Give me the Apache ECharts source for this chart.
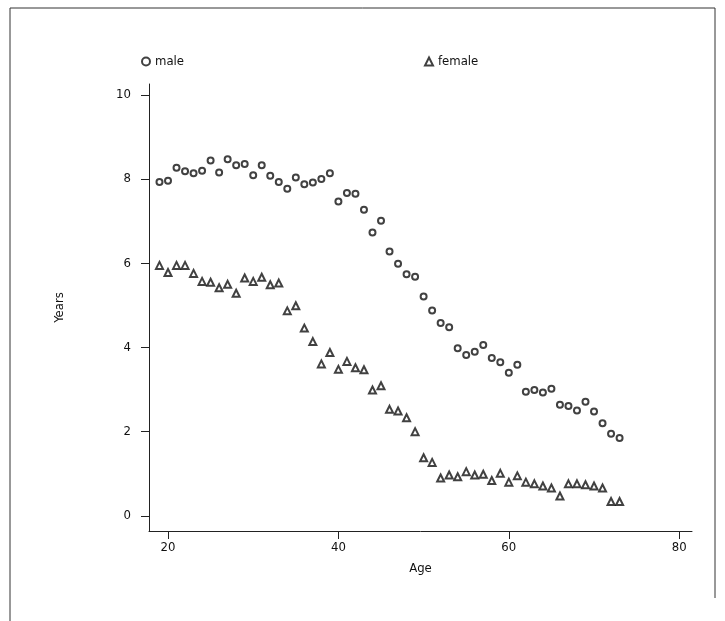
<!DOCTYPE html>
<html>
<head>
<meta charset="utf-8">
<script src="https://cdn.jsdelivr.net/npm/echarts@6/dist/echarts.min.js"></script>
<style>
html,body{margin:0;padding:0;background:#fff;}
#c{width:725px;height:621px;}
</style>
</head>
<body>
<div id="c"></div>
<script>
const ages = [19,20,21,22,23,24,25,26,27,28,29,30,31,32,33,34,35,36,37,38,39,40,41,42,43,44,45,46,47,48,49,50,51,52,53,54,55,56,57,58,59,60,61,62,63,64,65,66,67,68,69,70,71,72,73];
const male = [7.93,7.96,8.27,8.19,8.14,8.20,8.44,8.16,8.47,8.33,8.36,8.09,8.33,8.08,7.93,7.77,8.04,7.88,7.92,8.00,8.14,
  7.47,7.67,7.65,7.27,6.73,7.01,6.28,5.99,5.74,5.68,5.21,
  4.88,4.58,4.48,3.98,3.82,3.90,4.06,3.75,3.65,3.40,3.59,
  2.95,2.99,2.93,3.02,2.64,2.61,2.50,2.71,2.48,2.20,1.95,1.85];
const female = [5.95,5.78,5.95,5.95,5.76,5.57,5.55,5.42,5.50,5.29,5.65,5.57,5.67,5.49,5.53,4.87,4.99,4.46,4.14,3.61,3.88,
  3.48,3.67,3.52,3.47,2.99,3.09,2.53,2.49,2.33,2.00,1.38,
  1.27,0.90,0.97,0.93,1.05,0.97,0.99,0.84,1.01,0.80,0.95,
  0.80,0.76,0.71,0.66,0.47,0.76,0.76,0.74,0.71,0.66,0.34,0.34];
const xTicks = [20,40,60,80];
const yTicks = [0,2,4,6,8,10];
const seriesNames = ['male','female'];

const FONT = '"DejaVu Sans Condensed","Liberation Sans Narrow","DejaVu Sans",sans-serif';
const ink = '#111';
const chart = echarts.init(document.getElementById('c'), null, {renderer:'canvas'});
const pair = (vals) => ages.map((a,i)=>[a, vals[i]]);
chart.setOption({
  animation:false,
  backgroundColor:'#fff',
  textStyle:{fontFamily:FONT,color:ink},
  graphic:[{
    type:'polyline',
    shape:{points:[[10,640],[10,8],[715,8],[715,598]]},
    style:{stroke:'#333',lineWidth:1,fill:null}
  }],
  legend:[
    {data:[seriesNames[0]],left:136,top:50,itemWidth:8,itemHeight:8,itemGap:4,
     textStyle:{fontFamily:FONT,fontSize:13,color:ink}},
    {data:[seriesNames[1]],left:419,top:50,itemWidth:8,itemHeight:8,itemGap:4,
     textStyle:{fontFamily:FONT,fontSize:13,color:ink}}
  ],
  grid:{left:149,right:33,top:84,bottom:90,containLabel:false},
  xAxis:{
    type:'value',min:17.77,max:81.5,
    name:'Age',nameLocation:'middle',nameGap:31,
    nameTextStyle:{fontFamily:FONT,fontSize:13,color:ink},
    axisLine:{show:true,onZero:false,lineStyle:{color:'#222',width:1}},
    axisTick:{show:true,length:8,customValues:xTicks,lineStyle:{color:'#222'}},
    axisLabel:{customValues:xTicks,margin:10,fontFamily:FONT,fontSize:13,color:ink},
    splitLine:{show:false}
  },
  yAxis:{
    type:'value',min:-0.36,max:10.26,
    name:'Years',nameLocation:'middle',nameGap:83,nameRotate:90,
    nameTextStyle:{fontFamily:FONT,fontSize:13,color:ink},
    axisLine:{show:true,onZero:false,lineStyle:{color:'#222',width:1}},
    axisTick:{show:true,length:8,customValues:yTicks,lineStyle:{color:'#222'}},
    axisLabel:{customValues:yTicks,margin:18,fontFamily:FONT,fontSize:13,color:ink},
    splitLine:{show:false}
  },
  series:[
    {name:seriesNames[0],type:'scatter',symbol:'emptyCircle',symbolSize:6,
     itemStyle:{color:'#111',borderColor:'#111',borderWidth:1},data:pair(male)},
    {name:seriesNames[1],type:'scatter',symbol:'emptyTriangle',symbolSize:7,
     itemStyle:{color:'#111',borderColor:'#111',borderWidth:1},data:pair(female)}
  ]
});
</script>
</body>
</html>
